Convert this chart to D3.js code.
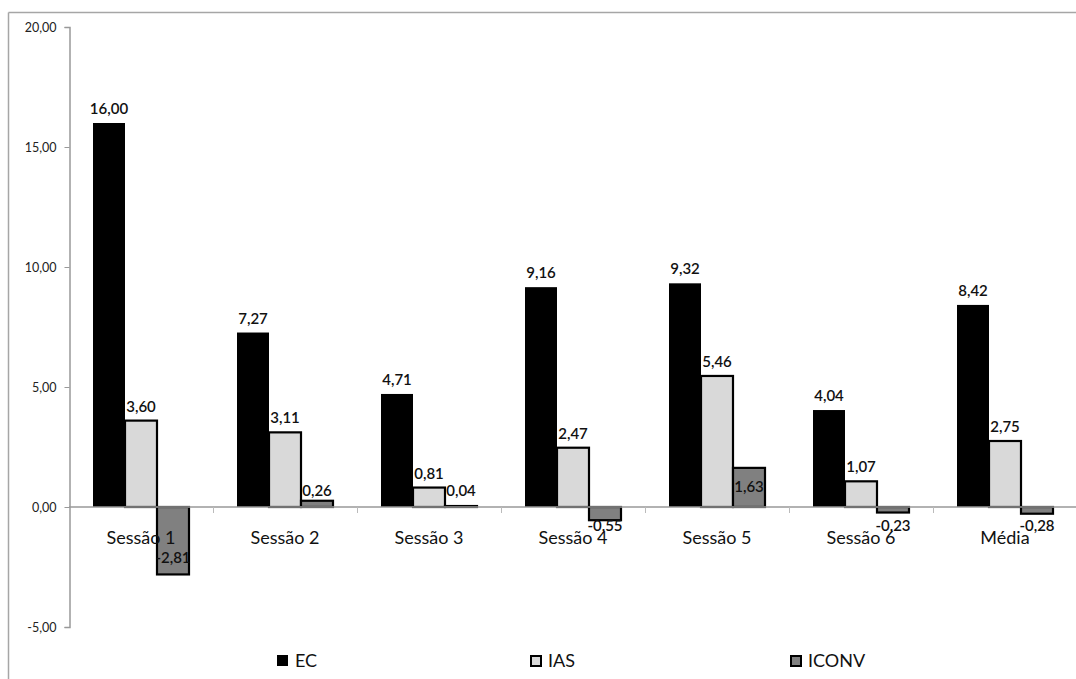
<!DOCTYPE html>
<html><head><meta charset="utf-8">
<script src="https://cdn.jsdelivr.net/npm/d3@7"></script>
<style>
html,body{margin:0;padding:0;background:#fff;}
svg{display:block;font-family:Lato,"Open Sans",sans-serif;}
</style></head>
<body>
<svg id="c" width="1076" height="679"></svg>
<script>
const categories = ["Sessão 1","Sessão 2","Sessão 3","Sessão 4","Sessão 5","Sessão 6","Média"];
const seriesNames = ["EC","IAS","ICONV"];
const ecValues = [16.00, 7.27, 4.71, 9.16, 9.32, 4.04, 8.42];
const iasValues = [3.60, 3.11, 0.81, 2.47, 5.46, 1.07, 2.75];
const iconvValues = [-2.81, 0.26, 0.04, -0.55, 1.63, -0.23, -0.28];
const yTicks = [-5, 0, 5, 10, 15, 20];

const colors = {EC:"#000000", IAS:"#d9d9d9", ICONV:"#808080"};
const svg = d3.select("#c");
const fmt = v => v.toFixed(2).replace(".", ",");

// chart frame
svg.append("line").attr("x1",8.5).attr("x2",8.5).attr("y1",12.5).attr("y2",679).attr("stroke","#a6a6a6").attr("stroke-width",1.5);
svg.append("line").attr("x1",8.5).attr("x2",1076).attr("y1",12.5).attr("y2",12.5).attr("stroke","#a6a6a6").attr("stroke-width",1.5);

const x0 = d3.scaleBand().domain(categories).range([69, 1077]).paddingInner(0).paddingOuter(0);
const x1 = d3.scaleBand().domain(seriesNames).range([0, x0.bandwidth()]).paddingOuter(0.75).paddingInner(0);
const y = d3.scaleLinear().domain([-5, 20]).range([627, 27]);

// y axis
const yAxis = d3.axisLeft(y).tickValues(yTicks).tickSize(5).tickFormat(fmt);
const ya = svg.append("g").attr("transform","translate(69.5,0)").call(yAxis);
ya.select(".domain").attr("stroke","#999").attr("stroke-width",1.5);
ya.selectAll(".tick line").attr("stroke","#999");
ya.selectAll(".tick text").attr("fill","#222").attr("font-size",12.5).attr("x",-13).attr("font-family","Lato, sans-serif");

const data = categories.map((c,i)=>({cat:c, vals:[
  {s:"EC", v:ecValues[i]}, {s:"IAS", v:iasValues[i]}, {s:"ICONV", v:iconvValues[i]}]}));

const groups = svg.append("g").selectAll("g").data(data).join("g")
  .attr("transform", d=>`translate(${x0(d.cat)},0)`);

groups.selectAll("rect").data(d=>d.vals).join("rect")
  .attr("x", d=>x1(d.s))
  .attr("width", x1.bandwidth())
  .attr("y", d=>y(Math.max(0,d.v)))
  .attr("height", d=>Math.abs(y(d.v)-y(0)))
  .attr("fill", d=>colors[d.s])
  .attr("stroke", d=>d.s==="EC"?"none":"#000")
  .attr("stroke-width", 2.2);

// zero axis line
const y0 = y(0);
svg.append("line").attr("x1",69).attr("x2",1076).attr("y1",y0).attr("y2",y0).attr("stroke","#999").attr("stroke-width",1.5);
// category ticks
svg.append("g").selectAll("line").data(categories.slice(1)).join("line")
  .attr("x1",d=>x0(d)+0.5).attr("x2",d=>x0(d)+0.5).attr("y1",y0).attr("y2",y0+6)
  .attr("stroke","#bbb").attr("stroke-width",1);

// category labels
svg.append("g").selectAll("text").data(categories).join("text")
  .attr("x", d=>x0(d)+x0.bandwidth()/2)
  .attr("y", 544)
  .attr("text-anchor","middle").attr("font-size",18).attr("fill","#111")
  .text(d=>d);

// value labels
function labelY(d){
  const yv = y(d.v);
  if (d.s !== "ICONV") return yv - 9;
  if (d.v >= 0) return Math.min(y0 - 11, yv + 24);
  return Math.max(y0 + 24, yv - 11);
}
groups.selectAll("text.val").data(d=>d.vals).join("text")
  .attr("class","val")
  .attr("x", d=>x1(d.s)+x1.bandwidth()/2)
  .attr("y", labelY)
  .attr("text-anchor","middle").attr("font-size",15).attr("font-weight",600).attr("fill","#111")
  .text(d=>fmt(d.v));

// legend
const legendX = [277, 530, 790];
const lg = svg.append("g").selectAll("g").data(seriesNames).join("g")
  .attr("transform",(d,i)=>`translate(${legendX[i]},655)`);
lg.append("rect").attr("x",d=>d==="EC"?0:1).attr("y",d=>d==="EC"?0:1)
  .attr("width",d=>d==="EC"?11:10).attr("height",d=>d==="EC"?11:10)
  .attr("fill",d=>colors[d]).attr("stroke",d=>d==="EC"?"none":"#000").attr("stroke-width",2);
lg.append("text").attr("x",18).attr("y",12).attr("font-size",18).attr("fill","#111").text(d=>d);
</script>
</body></html>
